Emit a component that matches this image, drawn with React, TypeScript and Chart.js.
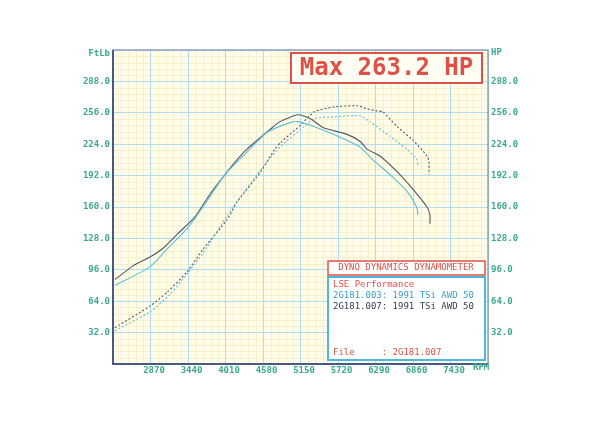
import { useEffect, useRef } from "react";
import { Chart, registerables } from "chart.js";

Chart.register(...registerables);

// ---- Data ----
const RPM_TICKS = [2870, 3440, 4010, 4580, 5150, 5720, 6290, 6860, 7430];
const VALUE_TICKS = [32, 64, 96, 128, 160, 192, 224, 256, 288];

// Run 2G181.007 (dark) torque (ft-lb)
const rpmTorque007 = [2330, 2604, 2862, 3060, 3273, 3546, 3774, 4002, 4185, 4337, 4686, 4838, 5112, 5300, 5492, 5857, 6054, 6161, 6358, 6617, 6860, 7073, 7118, 7118];
const torque007 = [86, 100, 109, 118, 132, 150, 173, 193, 208, 219, 239, 247, 254, 250, 241, 234, 227, 219, 212, 196, 178, 160, 152, 143];

// Run 2G181.003 (cyan) torque (ft-lb)
const rpmTorque003 = [2330, 2862, 3120, 3440, 3668, 4002, 4337, 4640, 4990, 5112, 5355, 5720, 6054, 6252, 6510, 6769, 6921, 6936];
const torque003 = [80, 99, 117, 139, 160, 193, 216, 236, 246, 247, 242, 232, 221, 208, 193, 176, 159, 152];

// Run 2G181.007 (dark) power (HP)
const rpmPower007 = [2330, 2862, 3120, 3425, 3668, 4033, 4185, 4535, 4762, 4853, 5160, 5355, 5660, 6020, 6160, 6310, 6400, 6617, 6860, 7073, 7103, 7103];
const power007 = [37, 59, 73, 94, 117, 147, 165, 195, 219, 226, 244, 257, 262, 263.2, 260, 258, 257, 242, 228, 212, 206, 193];

// Run 2G181.003 (cyan) power (HP)
const rpmPower003 = [2330, 2862, 3165, 3440, 3668, 4094, 4580, 4853, 5206, 5355, 5660, 6054, 6206, 6510, 6769, 6921, 6936];
const power003 = [34, 53, 71, 93, 113, 157, 201, 222, 242, 250, 252, 253, 247, 232, 219, 208, 201];

const MAX_LABEL = "Max 263.2 HP";
const BOX_TITLE = "DYNO DYNAMICS DYNAMOMETER";
const SHOP = "LSE Performance";
const RUN_003 = "2G181.003: 1991 TSi AWD 50";
const RUN_007 = "2G181.007: 1991 TSi AWD 50";
const FILE_LINE = "File     : 2G181.007";

const TEAL = "#3aa98e";
const RED = "#df5148";
const CYAN = "#5cbfd6";
const DARK = "#50576a";
const MONO = "'DejaVu Sans Mono', 'Liberation Mono', monospace";

const toPts = (xs: number[], ys: number[]) => xs.map((x, i) => ({ x, y: ys[i] }));

const dynoPlugin = {
  id: "dyno",
  beforeDraw(chart: any) {
    const { ctx, chartArea: a, scales } = chart;
    const sx = scales.x;
    const sy = scales.y;
    ctx.save();
    ctx.fillStyle = "#ffffff";
    ctx.fillRect(0, 0, chart.width, chart.height);
    ctx.fillStyle = "#fffdea";
    ctx.fillRect(a.left, a.top, a.right - a.left, a.bottom - a.top);
    ctx.strokeStyle = "#f6f0c9";
    ctx.lineWidth = 1;
    ctx.beginPath();
    for (let i = 1; i < 50; i++) {
      if (i % 5 === 0) continue;
      const px = Math.round(sx.getPixelForValue(2300 + i * 114)) + 0.5;
      ctx.moveTo(px, a.top);
      ctx.lineTo(px, a.bottom);
    }
    for (let i = 1; i < 50; i++) {
      if (i % 5 === 0) continue;
      const py = Math.round(sy.getPixelForValue(i * 6.4)) + 0.5;
      ctx.moveTo(a.left, py);
      ctx.lineTo(a.right, py);
    }
    ctx.stroke();
    ctx.restore();
  },
  afterDraw(chart: any) {
    const { ctx, chartArea: a } = chart;
    ctx.save();
    // plot border
    ctx.strokeStyle = "#7f8db0";
    ctx.lineWidth = 1.2;
    ctx.strokeRect(a.left, a.top, a.right - a.left, a.bottom - a.top);
    ctx.strokeStyle = "#4a5787";
    ctx.lineWidth = 2;
    ctx.beginPath();
    ctx.moveTo(a.left, a.top);
    ctx.lineTo(a.left, a.bottom);
    ctx.lineTo(a.right, a.bottom);
    ctx.stroke();

    // axis unit labels
    ctx.fillStyle = TEAL;
    ctx.font = `bold 9px ${MONO}`;
    ctx.textBaseline = "middle";
    ctx.textAlign = "right";
    ctx.fillText("FtLb", a.left - 3, a.top + 4);
    ctx.textAlign = "left";
    ctx.fillText("HP", a.right + 3, a.top + 3);
    ctx.fillText("RPM", 473, 368);

    // Max box
    ctx.fillStyle = "#fffef2";
    ctx.fillRect(291, 53, 191, 30);
    ctx.strokeStyle = RED;
    ctx.lineWidth = 2;
    ctx.strokeRect(291, 53, 191, 30);
    ctx.fillStyle = RED;
    ctx.font = `bold 24px ${MONO}`;
    ctx.textAlign = "center";
    ctx.fillText(MAX_LABEL, 386.5, 69);

    // Dyno title box
    ctx.fillStyle = "#ffffff";
    ctx.fillRect(328, 261, 157, 14);
    ctx.strokeStyle = RED;
    ctx.lineWidth = 1.5;
    ctx.strokeRect(328, 261, 157, 14);
    ctx.fillStyle = RED;
    ctx.font = `9px ${MONO}`;
    ctx.fillText(BOX_TITLE, 406, 268);

    // Legend box
    ctx.fillStyle = "#ffffff";
    ctx.fillRect(328, 277, 157, 83);
    ctx.strokeStyle = "#4fb6e0";
    ctx.lineWidth = 2;
    ctx.strokeRect(328, 277, 157, 83);
    ctx.textAlign = "left";
    ctx.fillStyle = RED;
    ctx.fillText(SHOP, 333, 285);
    ctx.fillStyle = "#3d9fc8";
    ctx.fillText(RUN_003, 333, 296);
    ctx.fillStyle = "#3a4050";
    ctx.fillText(RUN_007, 333, 307);
    ctx.fillStyle = RED;
    ctx.fillText(FILE_LINE, 333, 353);
    ctx.restore();
  },
};

export default function App() {
  const ref = useRef<HTMLCanvasElement | null>(null);

  useEffect(() => {
    if (!ref.current) return;
    const tickFont = { family: MONO, size: 9, weight: "bold" };
    const chart = new Chart(ref.current, {
      type: "line",
      data: {
        datasets: [
          { label: "Torque 003", data: toPts(rpmTorque003, torque003), borderColor: CYAN, borderWidth: 1.1, pointRadius: 0, tension: 0.2, fill: false },
          { label: "Torque 007", data: toPts(rpmTorque007, torque007), borderColor: DARK, borderWidth: 1.1, pointRadius: 0, tension: 0.2, fill: false },
          { label: "Power 003", data: toPts(rpmPower003, power003), borderColor: CYAN, borderWidth: 1.1, borderDash: [2, 2], pointRadius: 0, tension: 0.2, fill: false },
          { label: "Power 007", data: toPts(rpmPower007, power007), borderColor: DARK, borderWidth: 1.1, borderDash: [2, 2], pointRadius: 0, tension: 0.2, fill: false },
        ],
      },
      options: {
        animation: false,
        responsive: false,
        devicePixelRatio: 1,
        layout: { padding: { top: 50, left: 0, right: 0, bottom: 0 } },
        plugins: { legend: { display: false }, tooltip: { enabled: false } },
        scales: {
          x: {
            type: "linear",
            min: 2300,
            max: 8000,
            afterBuildTicks: (s: any) => {
              s.ticks = [2300, ...RPM_TICKS, 8000].map((v) => ({ value: v }));
            },
            afterFit: (s: any) => {
              s.height = 72;
            },
            ticks: {
              autoSkip: false,
              maxRotation: 0,
              padding: 1,
              labelOffset: 3.5,
              color: TEAL,
              font: tickFont,
              callback: (v: any) => (RPM_TICKS.includes(Number(v)) ? String(v) : ""),
            },
            grid: { color: "#b1dcec", lineWidth: 1, drawTicks: false },
            border: { display: false },
          },
          y: {
            position: "left",
            min: 0,
            max: 320,
            afterBuildTicks: (s: any) => {
              s.ticks = [0, ...VALUE_TICKS, 320].map((v) => ({ value: v }));
            },
            afterFit: (s: any) => {
              s.width = 113;
            },
            ticks: {
              padding: 3,
              color: TEAL,
              font: tickFont,
              callback: (v: any) => (VALUE_TICKS.includes(Number(v)) ? Number(v).toFixed(1) : ""),
            },
            grid: { color: "#b1dcec", lineWidth: 1, drawTicks: false },
            border: { display: false },
          },
          y2: {
            position: "right",
            min: 0,
            max: 320,
            afterBuildTicks: (s: any) => {
              s.ticks = [0, ...VALUE_TICKS, 320].map((v) => ({ value: v }));
            },
            afterFit: (s: any) => {
              s.width = 112;
            },
            ticks: {
              padding: 3,
              color: TEAL,
              font: tickFont,
              callback: (v: any) => (VALUE_TICKS.includes(Number(v)) ? Number(v).toFixed(1) : ""),
            },
            grid: { display: false, drawTicks: false },
            border: { display: false },
          },
        },
      },
      plugins: [dynoPlugin],
    } as any);
    return () => chart.destroy();
  }, []);

  return (
    <div style={{ position: "fixed", left: 0, top: 0, width: 600, height: 436, background: "#fff" }}>
      <canvas ref={ref} width={600} height={436} style={{ width: 600, height: 436, display: "block" }} />
    </div>
  );
}
